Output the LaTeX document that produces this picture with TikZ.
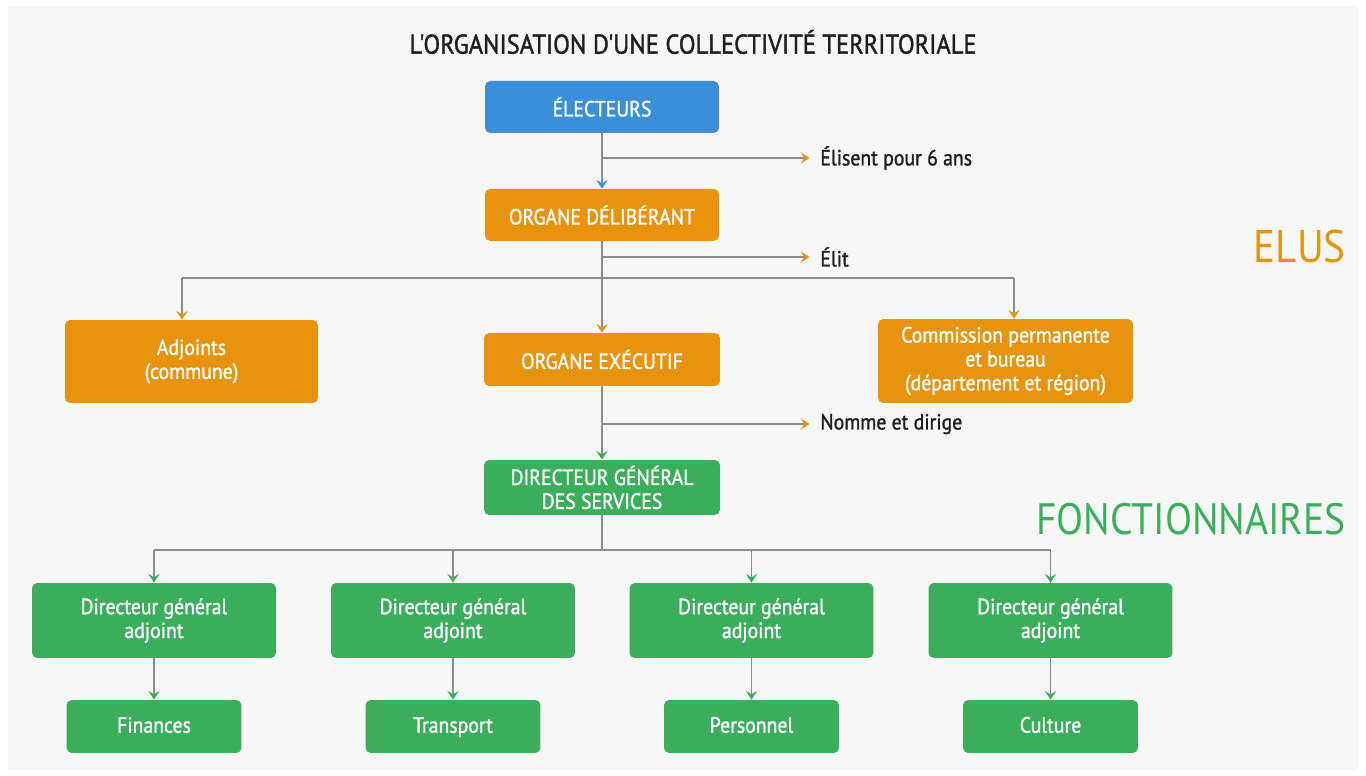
\documentclass[tikz,border=0pt]{standalone}
\usepackage{fontspec}
\setmainfont{PT Sans}[FakeStretch=0.9]
\newfontfamily\semib{PT Sans}[FakeStretch=0.9, FakeBold=1.3]
\usetikzlibrary{arrows.meta}

\definecolor{eblue}{HTML}{3B8FD9}
\definecolor{eorange}{HTML}{E8930E}
\definecolor{egreen}{HTML}{3BAE5C}
\definecolor{eline}{HTML}{8C8C8C}
\definecolor{etext}{HTML}{1E1E1E}
\definecolor{epanel}{HTML}{F7F7F7}

\tikzset{
  box/.style={rounded corners=3pt, text=white, align=center, inner sep=0pt,
    font=\semib\fontsize{12.5}{13.6}\selectfont},
  bluebox/.style={box, fill=eblue},
  orangebox/.style={box, fill=eorange},
  greenbox/.style={box, fill=egreen},
  onebox/.style={greenbox, text height=1.7ex, text depth=0.3ex},
  note/.style={anchor=west, inner sep=0pt, text=etext, font=\semib\fontsize{12.5}{13}\selectfont},
  link/.style={draw=eline, line width=0.7pt},
  tipblue/.style={link, -{Stealth[color=eblue, length=5pt, width=6.5pt, inset=2pt]}},
  tiporange/.style={link, -{Stealth[color=eorange, length=5pt, width=6.5pt, inset=2pt]}},
  tipgreen/.style={link, -{Stealth[color=egreen, length=5pt, width=6.5pt, inset=2pt]}},
}

\begin{document}
\begin{tikzpicture}[x=0.02cm, y=-0.02cm]

  % frame of the picture
  \fill[white] (0,0) rectangle (1366,776);
  \fill[epanel] (8,6) rectangle (1358,770);
  \useasboundingbox (0,0) rectangle (1366,776);

  \node[text=etext, font=\semib\fontsize{15.5}{17}\selectfont] (title) at (693,42)
    {L'ORGANISATION D'UNE COLLECTIVITÉ TERRITORIALE};

  % elus
  \node[bluebox, minimum width=4.68cm, minimum height=1.04cm] (electeurs) at (602,107) {ÉLECTEURS};
  \node[orangebox, minimum width=4.68cm, minimum height=1.04cm] (delib) at (602,215) {ORGANE DÉLIBÉRANT};
  \node[orangebox, minimum width=5.06cm, minimum height=1.66cm] (adjoints) at (191.5,361.5) {Adjoints\\(commune)};
  \node[orangebox, minimum width=4.72cm, minimum height=1.06cm] (executif) at (602,359.5) {ORGANE EXÉCUTIF};
  \node[orangebox, minimum width=5.1cm, minimum height=1.68cm] (commission) at (1005.5,361)
    {Commission permanente\\et bureau\\(département et région)};

  % fonctionnaires
  \node[greenbox, minimum width=4.72cm, minimum height=1.1cm] (dgs) at (602,487.5)
    {DIRECTEUR GÉNÉRAL\\DES SERVICES};
  \foreach \i/\x/\s in {1/154/Finances, 2/453/Transport, 3/751.5/Personnel, 4/1050.5/Culture} {
    \node[greenbox, minimum width=4.88cm, minimum height=1.5cm] (dga\i) at (\x,620.5)
      {Directeur général\\adjoint};
    \node[onebox, minimum width=3.5cm, minimum height=1.06cm] (sub\i) at (\x,726.5) {\s};
  }

  \node[anchor=east, inner sep=0pt, text=eorange, font=\fontsize{26}{28}\selectfont] (elus) at (1346,247) {ELUS};
  \node[anchor=east, inner sep=0pt, text=egreen, font=\fontsize{25}{28}\selectfont] (fonct) at (1346,519) {FONCTIONNAIRES};

  % side notes
  \node[note] (elisent) at (820,158) {Élisent pour 6 ans};
  \node[note] (elit) at (820,257) {Élit};
  \node[note] (nomme) at (820,424) {Nomme et dirige};

  % connectors
  \coordinate (j0) at (602,158);
  \coordinate (j1) at (602,257);
  \coordinate (j2) at (602,278);
  \coordinate (ja) at (182,278);
  \coordinate (jc) at (1014,278);
  \coordinate (j3) at (602,424);
  \coordinate (j4) at (602,550);

  \draw[tipblue] (electeurs) -- (delib);
  \draw[tiporange, shorten >=6pt] (j0) -- (elisent.west);

  \draw[link] (delib.south) -- (j2);
  \draw[tiporange, shorten >=6pt] (j1) -- (elit.west);
  \draw[link] (ja) -- (jc);
  \draw[tiporange] (ja) -- (ja |- adjoints.north);
  \draw[tiporange] (j2) -- (executif.north);
  \draw[tiporange] (jc) -- (jc |- commission.north);

  \draw[tipgreen] (executif) -- (dgs);
  \draw[tiporange, shorten >=6pt] (j3) -- (nomme.west);

  \draw[link] (dgs.south) -- (j4);
  \draw[link] (dga1 |- j4) -- (dga4 |- j4);
  \foreach \i in {1,...,4} {
    \draw[tipgreen] (dga\i |- j4) -- (dga\i.north);
    \draw[tipgreen] (dga\i) -- (sub\i);
  }
\end{tikzpicture}
\end{document}
